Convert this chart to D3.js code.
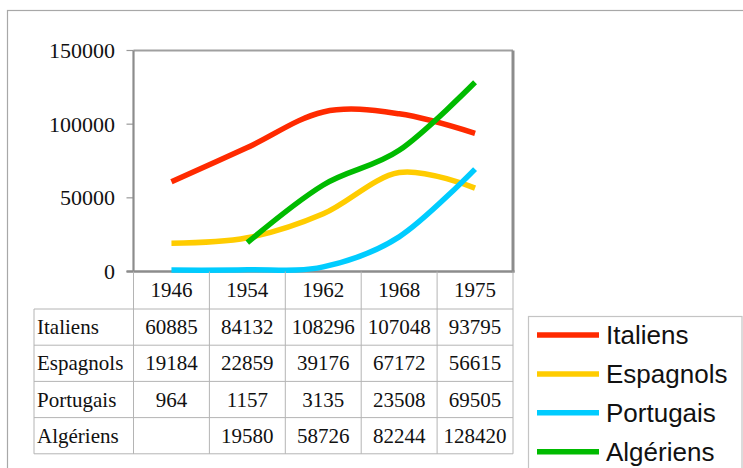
<!DOCTYPE html>
<html>
<head>
<meta charset="utf-8">
<script src="https://cdn.jsdelivr.net/npm/d3@7"></script>
<style>
  html, body { margin: 0; padding: 0; background: #fff; }
  svg { display: block; }
</style>
</head>
<body>
<svg id="chart" width="743" height="468"></svg>
<script>
const years = ["1946", "1954", "1962", "1968", "1975"];
const seriesNames = ["Italiens", "Espagnols", "Portugais", "Algériens"];
const italiens  = [60885, 84132, 108296, 107048, 93795];
const espagnols = [19184, 22859, 39176, 67172, 56615];
const portugais = [964, 1157, 3135, 23508, 69505];
const algeriens = [null, 19580, 58726, 82244, 128420];
const yTicks = [0, 50000, 100000, 150000];
const colors = ["#ff2a00", "#ffcc00", "#00ccff", "#00bb00"];

const series = [italiens, espagnols, portugais, algeriens].map((vals, i) => ({
  name: seriesNames[i], values: vals, color: colors[i]
}));

const svg = d3.select("#chart");

// outer frame (extends beyond the visible area)
svg.append("rect")
  .attr("x", 7.5).attr("y", 10.5).attr("width", 800).attr("height", 500)
  .attr("fill", "none").attr("stroke", "#a8a8a8").attr("stroke-width", 1.2);

const plot = { left: 133.5, right: 513, top: 50.5, bottom: 271.5 };

const x = d3.scaleBand().domain(years).range([plot.left, plot.right]).padding(0);
const y = d3.scaleLinear().domain([0, 150000]).range([plot.bottom, plot.top]);
const cx = d => x(d) + x.bandwidth() / 2;

// y tick labels and tick marks
const yAxis = svg.append("g");
yAxis.selectAll("line").data(yTicks).enter().append("line")
  .attr("x1", plot.left - 7).attr("x2", plot.left)
  .attr("y1", d => y(d)).attr("y2", d => y(d))
  .attr("stroke", "#999").attr("stroke-width", 1.2);
yAxis.selectAll("text").data(yTicks).enter().append("text")
  .attr("x", 115).attr("y", d => y(d)).attr("dy", "0.34em")
  .attr("text-anchor", "end")
  .attr("font-family", "'Liberation Serif', 'Times New Roman', serif")
  .attr("font-size", 22).attr("fill", "#111")
  .text(d => d);

// plot frame
svg.append("line").attr("x1", plot.left).attr("x2", plot.right)
  .attr("y1", plot.top).attr("y2", plot.top)
  .attr("stroke", "#a0a0a0").attr("stroke-width", 2);
svg.append("line").attr("x1", plot.left).attr("x2", plot.left)
  .attr("y1", plot.top).attr("y2", plot.bottom)
  .attr("stroke", "#8c8c8c").attr("stroke-width", 2.2);
svg.append("line").attr("x1", plot.right).attr("x2", plot.right)
  .attr("y1", plot.top).attr("y2", plot.bottom + 1)
  .attr("stroke", "#8c8c8c").attr("stroke-width", 3);
svg.append("line").attr("x1", plot.left - 7).attr("x2", plot.right + 1.5)
  .attr("y1", plot.bottom).attr("y2", plot.bottom)
  .attr("stroke", "#8c8c8c").attr("stroke-width", 2.6);

// lines
const line = d3.line()
  .defined(d => d.v !== null)
  .x(d => cx(d.year))
  .y(d => y(d.v))
  .curve(d3.curveCatmullRom.alpha(0));

svg.append("g").selectAll("path").data(series).enter().append("path")
  .attr("d", s => line(years.map((yr, i) => ({ year: yr, v: s.values[i] })).filter(d => d.v !== null)))
  .attr("fill", "none")
  .attr("stroke", s => s.color)
  .attr("stroke-width", 5.5)
  .attr("stroke-linecap", "butt")
  .attr("stroke-linejoin", "round");

// data table
const table = svg.append("g");
const rowH = 36.2;
const headerTop = plot.bottom;
const headerBottom = 309;
const tableLeft = 34;
const grid = "#b4b4b4";
const serif = "'Liberation Serif', 'Times New Roman', serif";
const tableBottom = headerBottom + rowH * series.length;

// column boundaries
const bounds = years.map(yr => x(yr)).concat([plot.right]);
table.selectAll("line.col").data(bounds).enter().append("line")
  .attr("class", "col")
  .attr("x1", d => d).attr("x2", d => d)
  .attr("y1", headerTop).attr("y2", tableBottom)
  .attr("stroke", grid).attr("stroke-width", 1);
// left edge
table.append("line").attr("x1", tableLeft).attr("x2", tableLeft)
  .attr("y1", headerBottom).attr("y2", tableBottom)
  .attr("stroke", grid).attr("stroke-width", 1);
// horizontal row lines
const hLines = d3.range(series.length + 1).map(i => headerBottom + i * rowH);
table.selectAll("line.row").data(hLines).enter().append("line")
  .attr("class", "row")
  .attr("x1", tableLeft).attr("x2", plot.right)
  .attr("y1", d => d).attr("y2", d => d)
  .attr("stroke", grid).attr("stroke-width", 1);

// year headers
table.selectAll("text.year").data(years).enter().append("text")
  .attr("class", "year")
  .attr("x", d => cx(d)).attr("y", (headerTop + headerBottom) / 2).attr("dy", "0.34em")
  .attr("text-anchor", "middle")
  .attr("font-family", serif).attr("font-size", 21).attr("fill", "#111")
  .text(d => d);

// rows
series.forEach((s, r) => {
  const ym = headerBottom + r * rowH + rowH / 2;
  table.append("text")
    .attr("x", tableLeft + 3).attr("y", ym).attr("dy", "0.34em")
    .attr("font-family", serif).attr("font-size", 21).attr("fill", "#111")
    .text(s.name);
  table.selectAll(null).data(years.map((yr, i) => ({ yr, v: s.values[i] })).filter(d => d.v !== null))
    .enter().append("text")
    .attr("x", d => cx(d.yr)).attr("y", ym).attr("dy", "0.34em")
    .attr("text-anchor", "middle")
    .attr("font-family", serif).attr("font-size", 21).attr("fill", "#111")
    .text(d => d.v);
});

// legend
const legend = svg.append("g");
legend.append("rect")
  .attr("x", 528.5).attr("y", 316.5).attr("width", 213.5).attr("height", 200)
  .attr("fill", "#fff").attr("stroke", "#c4c4c4").attr("stroke-width", 1.2);
const legItems = legend.selectAll("g.item").data(series).enter().append("g")
  .attr("class", "item")
  .attr("transform", (d, i) => `translate(0, ${335 + i * 38.9})`);
legItems.append("line")
  .attr("x1", 537).attr("x2", 599).attr("y1", 0).attr("y2", 0)
  .attr("stroke", d => d.color).attr("stroke-width", 5.5);
legItems.append("text")
  .attr("x", 606).attr("y", 0).attr("dy", "0.36em")
  .attr("font-family", "'Liberation Sans', Arial, sans-serif")
  .attr("font-size", 26).attr("fill", "#111")
  .text(d => d.name);
</script>
</body>
</html>
